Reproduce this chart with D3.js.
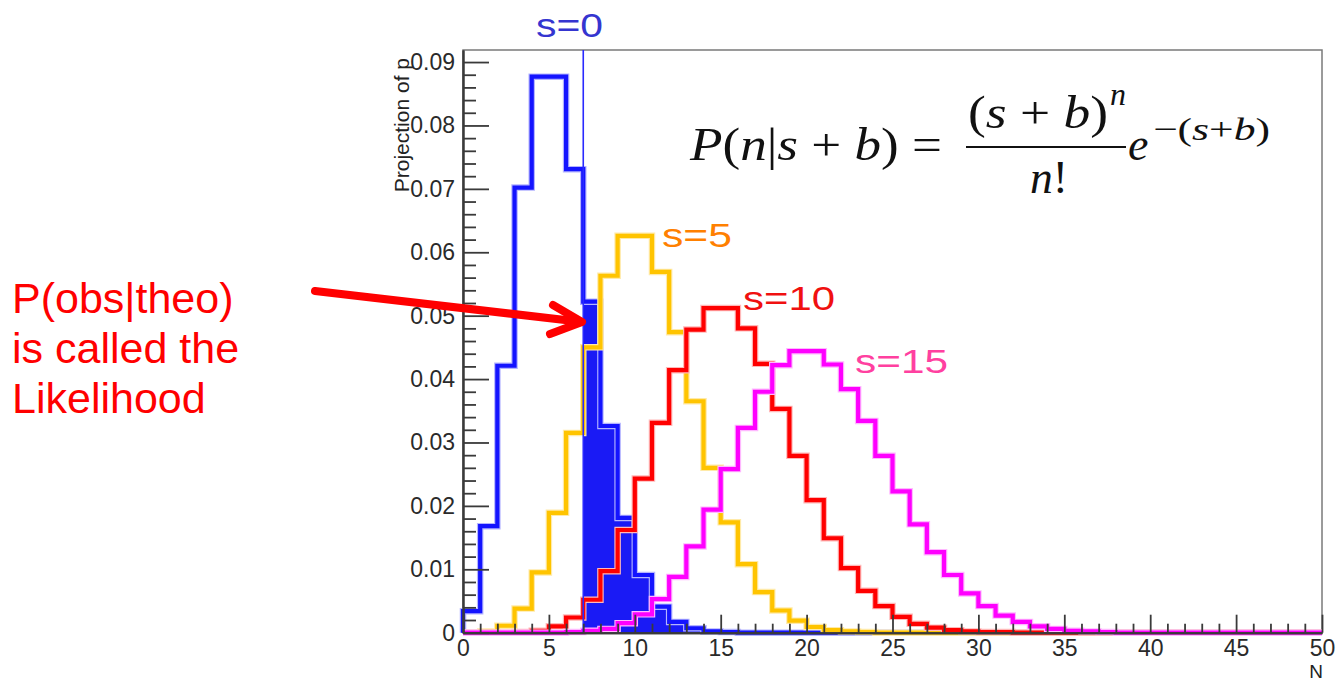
<!DOCTYPE html>
<html><head><meta charset="utf-8">
<script src="https://cdn.jsdelivr.net/npm/d3@7"></script>
<style>body{margin:0;background:#fff;} svg{display:block;}</style>
</head><body>
<svg id="c" width="1337" height="682"></svg>
<script>
// ---- data ----
const binLow = [0,1,2,3,4,5,6,7,8,9,10,11,12,13,14,15,16,17,18,19,20,21,22,23,24,25,26,27,28,29,30,31,32,33,34,35,36,37,38,39,40,41,42,43,44,45,46,47,48,49];
const seriesS0 = [0.0034,0.0168,0.0421,0.0702,0.0877,0.0877,0.0731,0.0522,0.0326,0.0181,0.0091,0.0041,0.0017,0.0007,0.0002,0.0001,0,0,0,0,0,0,0,0,0,0,0,0,0,0,0,0,0,0,0,0,0,0,0,0,0,0,0,0,0,0,0,0,0,0];
const seriesS5 = [0,0.0002,0.0011,0.0038,0.0095,0.0189,0.0315,0.0450,0.0563,0.0626,0.0626,0.0569,0.0474,0.0365,0.0260,0.0174,0.0108,0.0064,0.0035,0.0019,0.0009,0.0004,0.0002,0.0001,0,0,0,0,0,0,0,0,0,0,0,0,0,0,0,0,0,0,0,0,0,0,0,0,0,0];
const seriesS10 = [0,0,0,0.0001,0.0003,0.0010,0.0024,0.0052,0.0097,0.0162,0.0243,0.0331,0.0414,0.0478,0.0512,0.0512,0.0480,0.0424,0.0353,0.0279,0.0209,0.0149,0.0102,0.0066,0.0042,0.0025,0.0014,0.0008,0.0004,0.0002,0.0001,0.0001,0,0,0,0,0,0,0,0,0,0,0,0,0,0,0,0,0,0];
const seriesS15 = [0,0,0,0,0,0,0.0001,0.0003,0.0006,0.0015,0.0029,0.0053,0.0088,0.0136,0.0194,0.0258,0.0323,0.0380,0.0422,0.0444,0.0444,0.0423,0.0384,0.0334,0.0279,0.0223,0.0171,0.0127,0.0091,0.0062,0.0042,0.0027,0.0017,0.0010,0.0006,0.0003,0.0002,0.0001,0,0,0,0,0,0,0,0,0,0,0,0];
const observedN = 7;
const xMajorTicks = [0,5,10,15,20,25,30,35,40,45,50];
const xMinorTicks = [1,2,3,4,6,7,8,9,11,12,13,14,16,17,18,19,21,22,23,24,26,27,28,29,31,32,33,34,36,37,38,39,41,42,43,44,46,47,48,49];
const yMajorTicks = [0,0.01,0.02,0.03,0.04,0.05,0.06,0.07,0.08,0.09];
const yMinorTicks = [0.002,0.004,0.006,0.008,0.012,0.014,0.016,0.018,0.022,0.024,0.026,0.028,0.032,0.034,0.036,0.038,0.042,0.044,0.046,0.048,0.052,0.054,0.056,0.058,0.062,0.064,0.066,0.068,0.072,0.074,0.076,0.078,0.082,0.084,0.086,0.088];
const yTickLabels = ["0","0.01","0.02","0.03","0.04","0.05","0.06","0.07","0.08","0.09"];
const seriesLabels = ["s=0","s=5","s=10","s=15"];

// ---- drawing ----
const svg = d3.select("#c");
const x = d3.scaleLinear().domain([0,50]).range([463,1322]);
const y = d3.scaleLinear().domain([0,0.0919]).range([632.7,50]);

function stepPoints(vals, from){
  const pts = [[from,0]];
  vals.forEach((v,i)=>{ const b = binLow[i]; if (b < from) return; pts.push([b,v]); pts.push([b+1,v]); });
  pts.push([50,0]);
  return pts;
}
const line = d3.line().x(d=>x(d[0])).y(d=>y(d[1]));
const area = d3.area().x(d=>x(d[0])).y0(y(0)).y1(d=>y(d[1]));

// frame
svg.append("rect").attr("x",x(0)).attr("y",y(0.0919)).attr("width",x(50)-x(0)).attr("height",y(0)-y(0.0919))
  .attr("fill","none").attr("stroke","#7a7a7a").attr("stroke-width",1.5);

// filled tail of s=0 histogram (n >= observed)
svg.append("path").attr("d", area(stepPoints(seriesS0, observedN))).attr("fill","#1a1af5");

// histograms
const hists = [
  {vals: seriesS0, color:"#1414ff", halo:"#b4b4ff"},
  {vals: seriesS5, color:"#ffc400", halo:"#ffeaa8"},
  {vals: seriesS10, color:"#ff0000", halo:"#ffb8b8"},
  {vals: seriesS15, color:"#ff00ff", halo:"#ffb8ff"}
];
hists.forEach(h=>{
  const p = line(stepPoints(h.vals, 0));
  svg.append("path").attr("d",p).attr("fill","none").attr("stroke",h.halo).attr("stroke-width",6.5).attr("stroke-linejoin","miter");
  svg.append("path").attr("d",p).attr("fill","none").attr("stroke",h.color).attr("stroke-width",4.2).attr("stroke-linejoin","miter");
});

// observed line
svg.append("line").attr("x1",x(observedN)).attr("x2",x(observedN)).attr("y1",y(0.0919)).attr("y2",y(0))
  .attr("stroke","#2a2aff").attr("stroke-width",1.6);

// axes
const axCol = "#3a3a3a";
function styleAxis(g){
  g.select(".domain").attr("stroke",axCol).attr("stroke-width",2);
  g.selectAll(".tick line").attr("stroke",axCol).attr("stroke-width",1.8);
  g.selectAll(".tick text").attr("fill","#2a2a2a").style("font-family","'Liberation Sans', Arial, sans-serif").style("font-size","23px");
}
const gxMinor = svg.append("g").attr("transform",`translate(0,${y(0)})`)
  .call(d3.axisBottom(x).tickValues(xMinorTicks).tickSize(-9).tickSizeOuter(0).tickFormat(""));
styleAxis(gxMinor);
const gx = svg.append("g").attr("transform",`translate(0,${y(0)})`)
  .call(d3.axisBottom(x).tickValues(xMajorTicks).tickSize(-18).tickSizeOuter(0).tickPadding(7).tickFormat(d3.format("d")));
styleAxis(gx);
const gyMinor = svg.append("g").attr("transform",`translate(${x(0)},0)`)
  .call(d3.axisLeft(y).tickValues(yMinorTicks).tickSize(-13).tickSizeOuter(0).tickFormat(""));
styleAxis(gyMinor);
const gy = svg.append("g").attr("transform",`translate(${x(0)},0)`)
  .call(d3.axisLeft(y).tickValues(yMajorTicks).tickSize(-26).tickSizeOuter(0).tickPadding(8).tickFormat((d,i)=>yTickLabels[i]));
styleAxis(gy);

// axis titles
svg.append("text").attr("transform","translate(409,58) rotate(-90)").attr("text-anchor","end")
  .style("font-family","'Liberation Sans', Arial, sans-serif").style("font-size","21px").attr("fill","#222")
  .text("Projection of p");
svg.append("text").attr("x",1323).attr("y",678).attr("text-anchor","end")
  .style("font-family","'Liberation Sans', Arial, sans-serif").style("font-size","19px").attr("fill","#222").text("N");

// series labels
const lab = [
  {t:seriesLabels[0], x:536, y:37, w:67, c:"#3535d0"},
  {t:seriesLabels[1], x:662, y:247, w:70, c:"#ff8000"},
  {t:seriesLabels[2], x:743, y:310, w:92, c:"#f01010"},
  {t:seriesLabels[3], x:855, y:373, w:93, c:"#ff40a0"}
];
lab.forEach(l=>{
  svg.append("text").attr("x",l.x).attr("y",l.y).attr("textLength",l.w).attr("lengthAdjust","spacingAndGlyphs")
    .style("font-family","'Liberation Sans', Arial, sans-serif").style("font-size","33px").attr("fill",l.c).text(l.t);
});

// left annotation
const ann = ["P(obs|theo)","is called the","Likelihood"];
ann.forEach((t,i)=>{
  svg.append("text").attr("x",12).attr("y",313+i*50)
    .style("font-family","'Liberation Sans', Arial, sans-serif").style("font-size","43px").attr("fill","#ff0000").text(t);
});
// arrow
svg.append("line").attr("x1",315).attr("y1",291).attr("x2",578).attr("y2",321.5)
  .attr("stroke","#ff0000").attr("stroke-width",8).attr("stroke-linecap","round");
svg.append("polyline").attr("points","553,305 582,322 550,334").attr("fill","none")
  .attr("stroke","#ff0000").attr("stroke-width",8).attr("stroke-linecap","round").attr("stroke-linejoin","round");

// formula
const serif = "'Liberation Serif', 'Times New Roman', serif";
function ftext(xp, yp, size, parts, len){
  const t = svg.append("text").attr("x",xp).attr("y",yp).style("font-family",serif).style("font-size",size+"px").attr("fill","#111");
  if (len) t.attr("textLength",len).attr("lengthAdjust","spacingAndGlyphs");
  parts.forEach(p=>{ t.append("tspan").style("font-style",p[1]?"italic":"normal").text(p[0]); });
  return t;
}
ftext(690,160,46,[["P",1],["(",0],["n",1],["|",0],["s",1],[" + ",0],["b",1],[")",0],[" =",0]],252);
ftext(968,128,46,[["(",0],["s",1],[" + ",0],["b",1],[")",0]],140);
ftext(1110,105,32,[["n",1]]);
svg.append("line").attr("x1",966).attr("x2",1126).attr("y1",147).attr("y2",147).attr("stroke","#111").attr("stroke-width",2);
ftext(1030,193,46,[["n",1],["!",0]],38);
ftext(1128,160,46,[["e",1]]);
ftext(1153,140,32,[["\u2212(",0],["s",1],["+",0],["b",1],[")",0]],117);
</script>
</body></html>
